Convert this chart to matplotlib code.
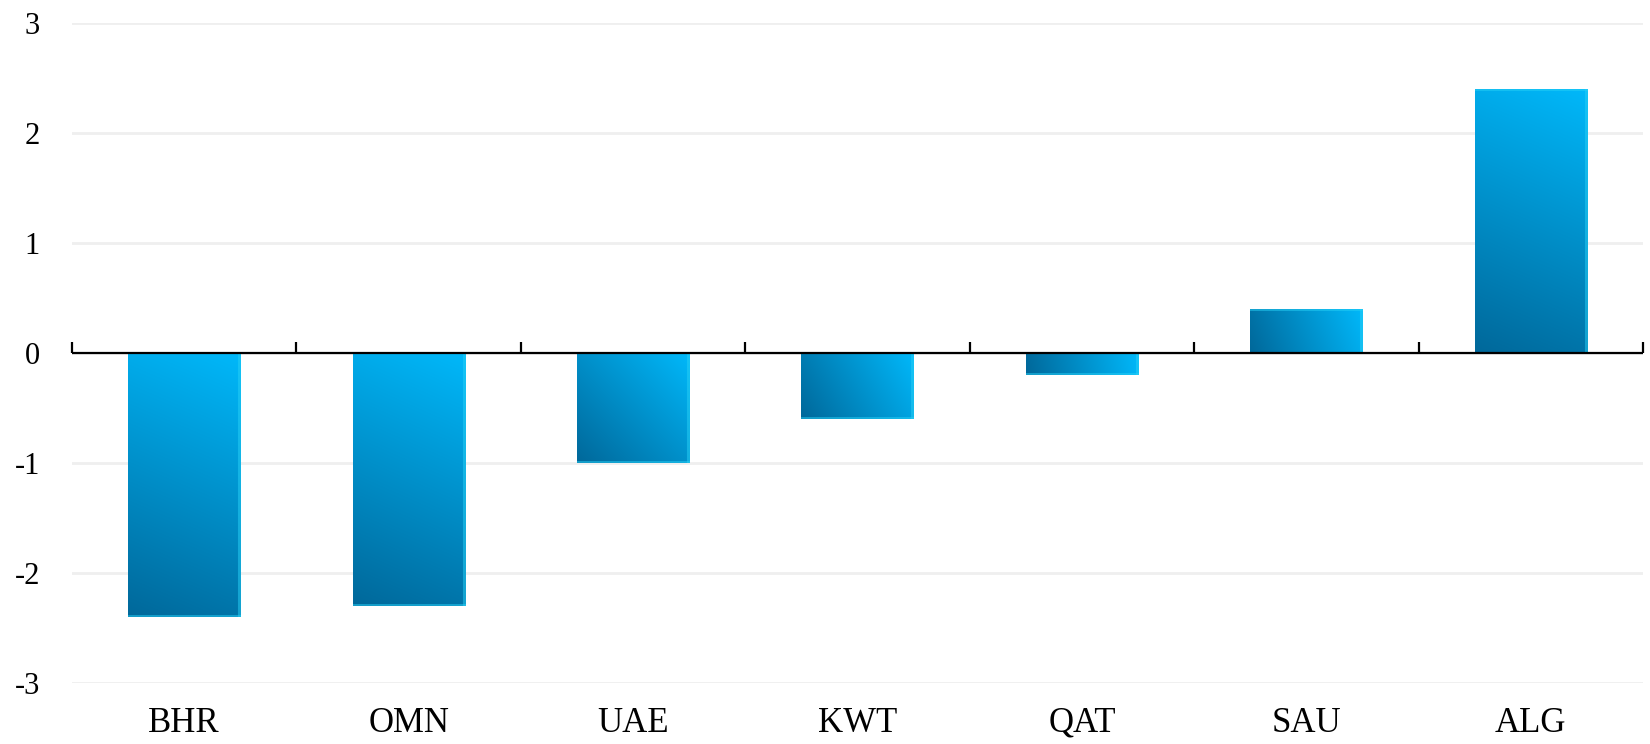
import numpy as np
import matplotlib
matplotlib.use("Agg")
import matplotlib.pyplot as plt

countries = ["BHR", "OMN", "UAE", "KWT", "QAT", "SAU", "ALG"]
values = [-2.4, -2.3, -1.0, -0.6, -0.2, 0.4, 2.4]
yticks = [-3, -2, -1, 0, 1, 2, 3]

DARK = np.array([0, 104, 154]) / 255
LIGHT = np.array([0, 184, 250]) / 255
EDGE = np.array([40, 208, 245]) / 255

plt.rcParams["font.family"] = ["Liberation Serif", "DejaVu Serif"]

DPI = 100
fig = plt.figure(figsize=(16.5, 7.44), dpi=DPI)
ax = fig.add_axes((72 / 1650, 61 / 744, 1571 / 1650, 660 / 744))

x = np.arange(len(countries))
bars = ax.bar(x, values, width=0.5, color="none", zorder=2)
ax.set_xlim(-0.5, len(countries) - 0.5)
ax.set_ylim(-3, 3)

# gradient fill for each bar, along the bar's pixel diagonal (dark bottom-left)
for b, v in zip(bars, values):
    x0, y0 = b.get_x(), b.get_y()
    w, h = b.get_width(), b.get_height()
    ylo, yhi = min(y0, y0 + h), max(y0, y0 + h)
    p0 = ax.transData.transform((x0, ylo))
    p1 = ax.transData.transform((x0 + w, yhi))
    W, H = p1 - p0
    nx, ny = max(int(round(W)), 2), max(int(round(H)), 2)
    u, vv = np.meshgrid(np.linspace(0, 1, nx), np.linspace(0, 1, ny))
    t = (u * W**2 + vv * H**2) / (W**2 + H**2)
    rgb = DARK[None, None, :] * (1 - t[..., None]) + LIGHT[None, None, :] * t[..., None]
    # soft light rim on the right side and on the far end
    rgb[:, -3:, :] = 0.5 * rgb[:, -3:, :] + 0.5 * EDGE
    if v < 0:
        rgb[:2, :, :] = 0.5 * rgb[:2, :, :] + 0.5 * EDGE
    else:
        rgb[-2:, :, :] = 0.5 * rgb[-2:, :, :] + 0.5 * EDGE
    ax.imshow(rgb, origin="lower", extent=(x0, x0 + w, ylo, yhi),
              aspect="auto", interpolation="bilinear", zorder=2)

ax.set_xlim(-0.5, len(countries) - 0.5)
ax.set_ylim(-3, 3)

for s in ax.spines.values():
    s.set_visible(False)

ax.set_yticks(yticks)
ax.set_yticklabels([str(t) for t in yticks])
ax.yaxis.grid(True, color="#EFEFEF", linewidth=2, zorder=0)
ax.set_axisbelow(True)
ax.tick_params(axis="y", length=0, pad=23, labelsize=22)

ax.set_xticks(x)
ax.set_xticklabels(countries)
ax.tick_params(axis="x", length=0, pad=17, labelsize=25)

# zero line with category separators
ax.axhline(0, color="black", linewidth=1.6, zorder=4)
sec = ax.secondary_xaxis(0.5)
sec.set_zorder(5)
sec.set_xticks(np.arange(len(countries) + 1) - 0.5)
sec.set_xticklabels([])
sec.tick_params(direction="out", length=8, width=1.6, color="black")
for s in sec.spines.values():
    s.set_visible(False)

fig.savefig("out.png", dpi=DPI)
